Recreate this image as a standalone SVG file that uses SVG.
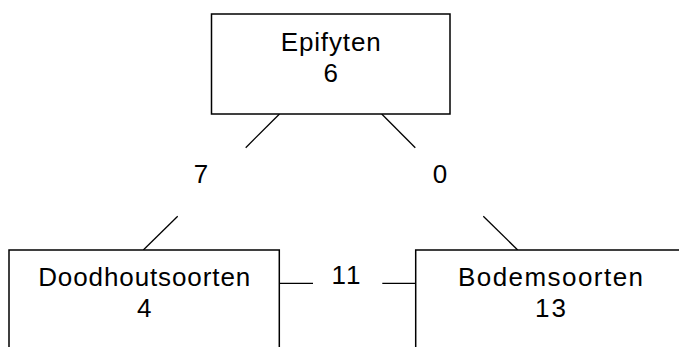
<svg xmlns="http://www.w3.org/2000/svg" width="679" height="347" viewBox="0 0 679 347">
  <style>
    .box { fill: #ffffff; stroke: #000000; stroke-width: 1.5; }
    .edge { stroke: #000000; stroke-width: 1.3; fill: none; }
    text { font-family: "Liberation Sans", Arial, sans-serif; font-size: 26px; fill: #000000; text-anchor: middle; }
    .wide { letter-spacing: 2px; }
  </style>
  <rect width="679" height="347" fill="#ffffff"/>

  <g id="connectors">
    <!-- Epifyten to Doodhoutsoorten -->
    <line class="edge" x1="279.5" y1="114" x2="245.7" y2="147.7"/>
    <line class="edge" x1="177.7" y1="216.3" x2="143.3" y2="250"/>
    <text x="201" y="183">7</text>
    <!-- Epifyten to Bodemsoorten -->
    <line class="edge" x1="381.7" y1="114" x2="415.3" y2="147.7"/>
    <line class="edge" x1="483.3" y1="216.3" x2="517.7" y2="250"/>
    <text x="440" y="183">0</text>
    <!-- Doodhoutsoorten to Bodemsoorten -->
    <line class="edge" x1="279.3" y1="283.3" x2="313" y2="283.3"/>
    <line class="edge" x1="382.3" y1="283.3" x2="415.7" y2="283.3"/>
    <text class="wide" x="347" y="284">11</text>
  </g>

  <g id="node-epifyten">
    <rect class="box" x="211.5" y="14" width="238.5" height="100"/>
    <text x="330.7" y="51" textLength="100" lengthAdjust="spacing">Epifyten</text>
    <text x="330.7" y="82">6</text>
  </g>

  <g id="node-doodhoutsoorten">
    <rect class="box" x="9" y="250" width="270.3" height="120"/>
    <text x="144.2" y="286" textLength="212" lengthAdjust="spacing">Doodhoutsoorten</text>
    <text x="144.2" y="317">4</text>
  </g>

  <g id="node-bodemsoorten">
    <rect class="box" x="415.7" y="250" width="268.6" height="120"/>
    <text x="550.5" y="286" textLength="185" lengthAdjust="spacing">Bodemsoorten</text>
    <text class="wide" x="551.5" y="317">13</text>
  </g>
</svg>
